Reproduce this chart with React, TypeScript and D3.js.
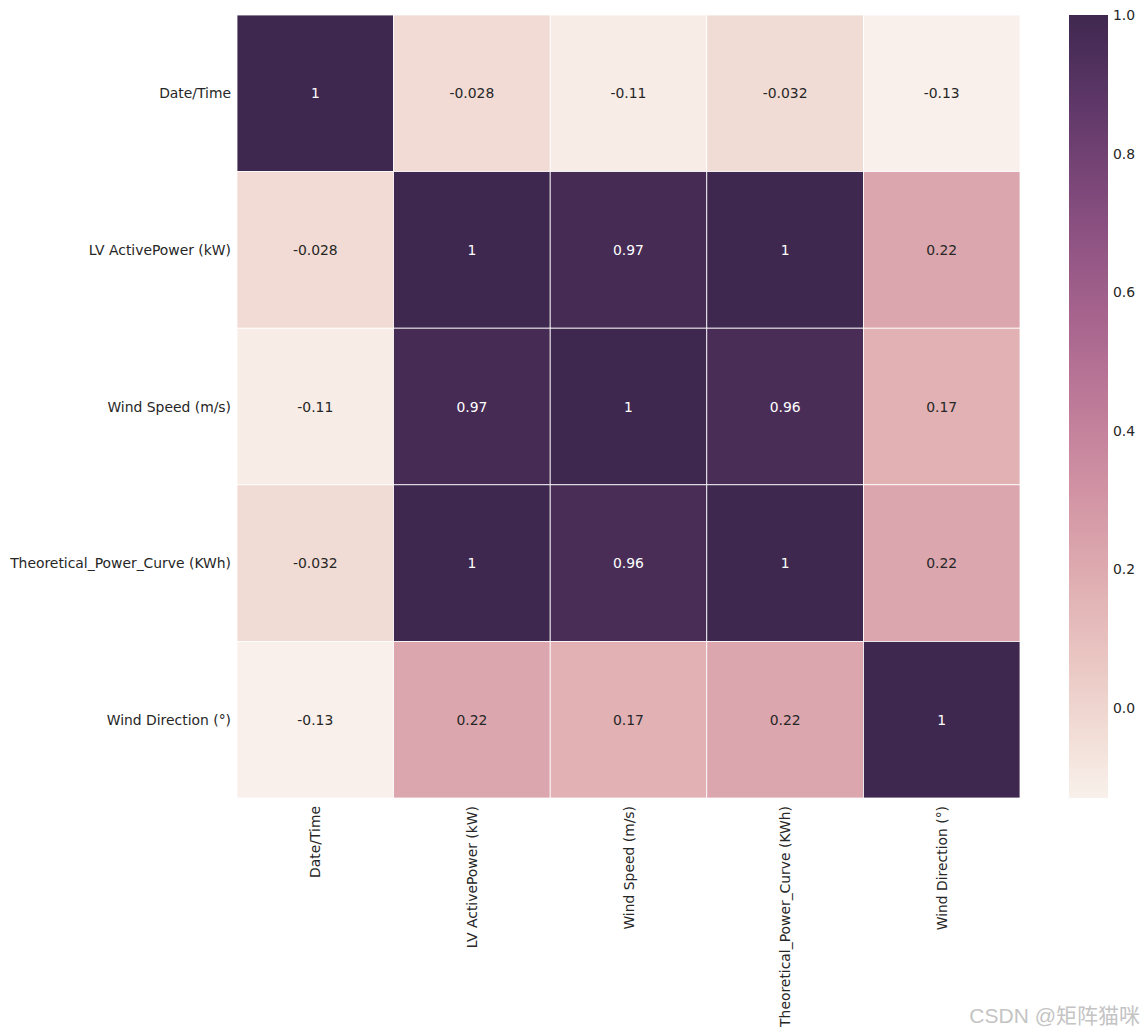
import React from "react";
import * as d3 from "d3";

const labels = [
  "Date/Time",
  "LV ActivePower (kW)",
  "Wind Speed (m/s)",
  "Theoretical_Power_Curve (KWh)",
  "Wind Direction (°)",
];

const row0 = [1, -0.028, -0.11, -0.032, -0.13];
const row1 = [-0.028, 1, 0.97, 1, 0.22];
const row2 = [-0.11, 0.97, 1, 0.96, 0.17];
const row3 = [-0.032, 1, 0.96, 1, 0.22];
const row4 = [-0.13, 0.22, 0.17, 0.22, 1];
const matrix = [row0, row1, row2, row3, row4];

const cbarTicks = [0.0, 0.2, 0.4, 0.6, 0.8, 1.0];

const VMIN = -0.13;
const VMAX = 1.0;

// seaborn-like cubehelix palette
function cubehelix(t: number): string {
  const light = 0.95, dark = 0.2, start = 0, rot = 0.4, hue = 0.8, gamma = 1;
  const x = light + (dark - light) * t;
  const f = (p0: number, p1: number) => {
    const xg = Math.pow(x, gamma);
    const a = (hue * xg * (1 - xg)) / 2;
    const phi = 2 * Math.PI * (start / 3 + rot * x);
    return Math.max(0, Math.min(1, xg + a * (p0 * Math.cos(phi) + p1 * Math.sin(phi))));
  };
  const r = f(-0.14861, 1.78277);
  const g = f(-0.29227, -0.90649);
  const b = f(1.97294, 0.0);
  return d3.rgb(r * 255, g * 255, b * 255).formatHex();
}

function lum(hex: string) {
  const c = d3.rgb(hex);
  const ch = [c.r, c.g, c.b].map((v) => {
    const s = v / 255;
    return s <= 0.03928 ? s / 12.92 : Math.pow((s + 0.055) / 1.055, 2.4);
  });
  return 0.2126 * ch[0] + 0.7152 * ch[1] + 0.0722 * ch[2];
}

export default function App() {
  const W = 1144, H = 1035;
  const left = 237, top = 15, right = 1020, bottom = 798;
  const x = d3.scaleBand<string>().domain(labels).range([left, right]);
  const y = d3.scaleBand<string>().domain(labels).range([top, bottom]);
  const norm = d3.scaleLinear().domain([VMIN, VMAX]).range([0, 1]).clamp(true);
  const color = (v: number) => cubehelix(norm(v));

  const cbX = 1069, cbW = 39;
  const cbY = d3.scaleLinear().domain([VMIN, VMAX]).range([bottom, top]);
  const stops = d3.range(0, 65).map((i) => ({ o: i / 64, c: cubehelix(i / 64) }));

  const font = "'DejaVu Sans', sans-serif";
  const fs = 13.9;
  const textDark = "#262626";

  return (
    <svg
      width={W}
      height={H}
      style={{ position: "absolute", left: 0, top: 0, background: "#fff" }}
      fontFamily={font}
    >
      <defs>
        <linearGradient id="cbar" x1="0" y1="1" x2="0" y2="0">
          {stops.map((s, i) => (
            <stop key={i} offset={s.o} stopColor={s.c} />
          ))}
        </linearGradient>
      </defs>
      <rect x={0} y={0} width={W} height={H} fill="#fff" />
      {matrix.map((row, i) =>
        row.map((v, j) => {
          const c = color(v);
          const cx = (x(labels[j]) as number) + x.bandwidth() / 2;
          const cy = (y(labels[i]) as number) + y.bandwidth() / 2;
          return (
            <g key={`${i}-${j}`}>
              <rect
                x={x(labels[j])}
                y={y(labels[i])}
                width={x.bandwidth()}
                height={y.bandwidth()}
                fill={c}
                stroke="#fff"
                strokeWidth={0.8}
              />
              <text
                x={cx}
                y={cy}
                textAnchor="middle"
                dominantBaseline="central"
                fontSize={fs}
                fill={lum(c) < 0.408 ? "#ffffff" : textDark}
              >
                {String(v)}
              </text>
            </g>
          );
        })
      )}
      {labels.map((l) => (
        <text
          key={"y" + l}
          x={231}
          y={(y(l) as number) + y.bandwidth() / 2}
          textAnchor="end"
          dominantBaseline="central"
          fontSize={fs}
          fill={textDark}
        >
          {l}
        </text>
      ))}
      {labels.map((l) => {
        const cx = (x(l) as number) + x.bandwidth() / 2;
        return (
          <text
            key={"x" + l}
            transform={`translate(${cx},${806}) rotate(-90)`}
            textAnchor="end"
            dominantBaseline="central"
            fontSize={fs}
            fill={textDark}
          >
            {l}
          </text>
        );
      })}
      <rect x={cbX} y={cbY(VMAX)} width={cbW} height={cbY(VMIN) - cbY(VMAX)} fill="url(#cbar)" />
      {cbarTicks.map((t) => (
        <text
          key={"t" + t}
          x={1113}
          y={cbY(t)}
          dominantBaseline="central"
          fontSize={fs}
          fill={textDark}
        >
          {t.toFixed(1)}
        </text>
      ))}
      <text
        x={1140}
        y={1023}
        textAnchor="end"
        fontSize={21}
        fill="#c4c4c4"
        fontFamily="'Liberation Sans', 'Noto Sans CJK SC', sans-serif"
      >
        CSDN @矩阵猫咪
      </text>
    </svg>
  );
}
